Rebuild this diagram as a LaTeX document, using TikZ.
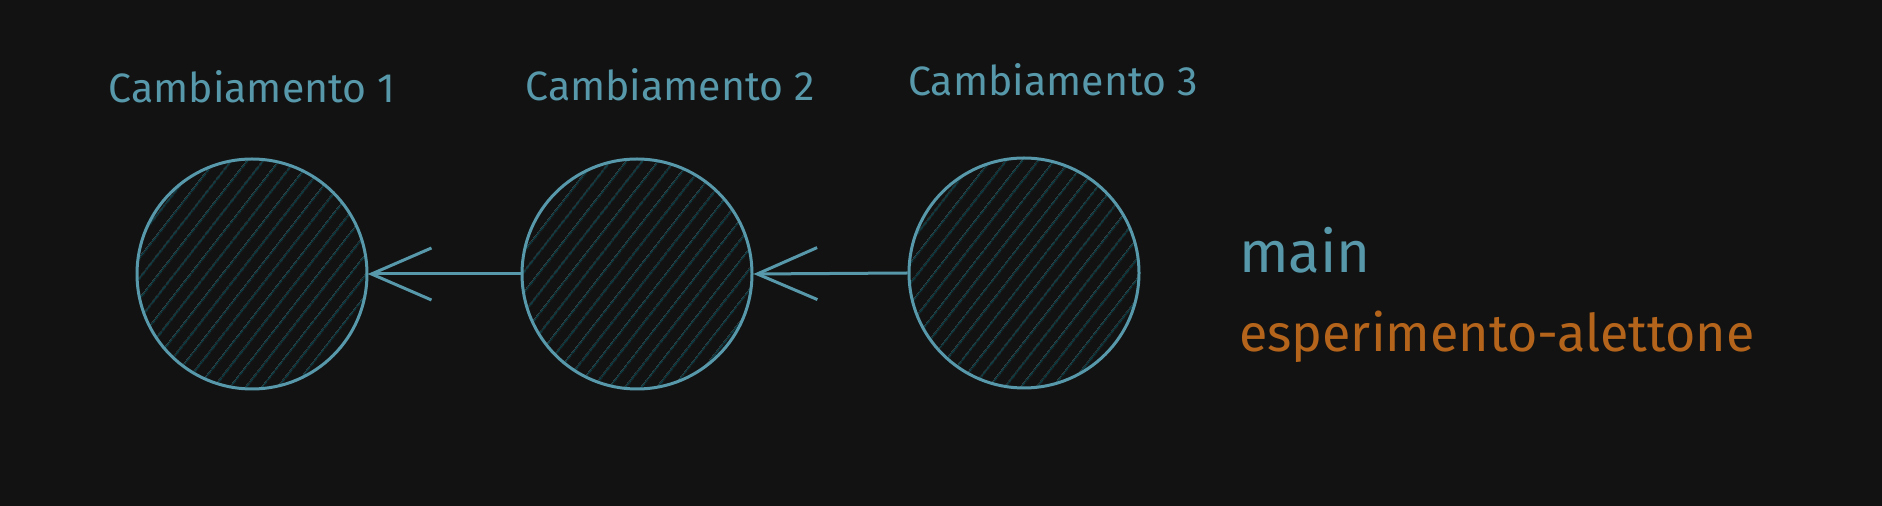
\documentclass[tikz,border=0pt]{standalone}
\usepackage{fontspec}
\setmainfont{Fira Sans}
\usetikzlibrary{arrows.meta, patterns.meta}

\definecolor{bgdark}{HTML}{121212}
\definecolor{commitblue}{HTML}{5799AB}
\definecolor{hatchblue}{HTML}{0D424B}
\definecolor{branchorange}{HTML}{B5651B}

\tikzset{
  commit/.style={circle, draw=commitblue, line width=1.5pt, minimum size=115pt,
    pattern={Lines[angle=52, distance=6.5pt, line width=0.7pt]}, pattern color=hatchblue},
  parent/.style={draw=commitblue, line width=1.5pt,
    -{Straight Barb[length=30pt, width=26pt, line width=1.5pt]}},
  commitlabel/.style={anchor=base, text=commitblue, font=\fontsize{20.5}{24}\selectfont},
  branchlabel/.style={anchor=base west, font=\fontsize{26}{30}\selectfont}
}

\begin{document}
\begin{tikzpicture}[x=0.5pt, y=-0.5pt]
  \fill[bgdark] (0, 0) rectangle (1882, 506);
  \useasboundingbox (0, 0) rectangle (1882, 506);

  % commits
  \node[commit] (c1) at (252, 274) {};
  \node[commit] (c2) at (637, 274) {};
  \node[commit] (c3) at (1024, 273) {};

  \node[commitlabel] (l1) at (252, 103) {Cambiamento 1};
  \node[commitlabel] (l2) at (670, 101) {Cambiamento 2};
  \node[commitlabel] (l3) at (1053, 96) {Cambiamento 3};

  % parent links
  \draw[parent] (c2.west) -- (c1.east);
  \draw[parent] (c3.west) -- (c2.east);

  % branches
  \node[branchlabel, text=commitblue, font=\fontsize{29}{32}\selectfont] (main) at (1232, 273) {main};
  \node[branchlabel, text=branchorange] (exp) at (1232, 352) {esperimento-alettone};
\end{tikzpicture}
\end{document}
